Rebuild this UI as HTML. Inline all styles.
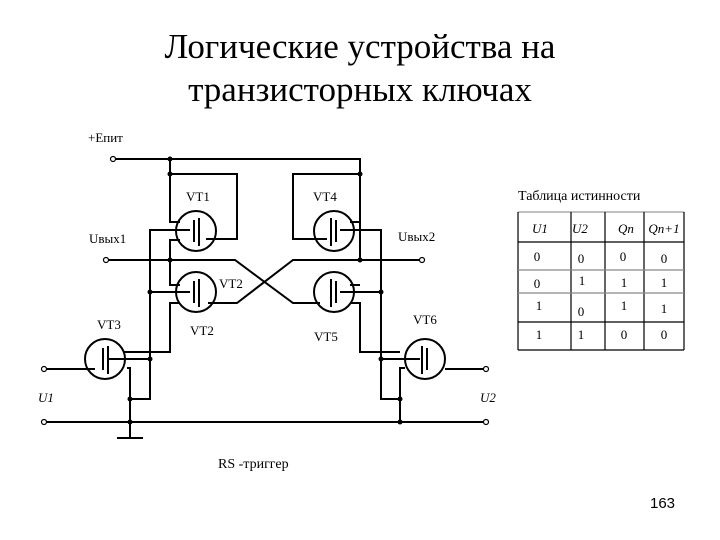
<!DOCTYPE html>
<html><head><meta charset="utf-8"><style>
body{margin:0;background:#fff;}
svg{display:block;}
text{font-family:"Liberation Serif",serif;fill:#000;}
</style></head><body>
<svg width="720" height="540" viewBox="0 0 720 540" xmlns="http://www.w3.org/2000/svg">
<text x="360" y="58" font-size="35" text-anchor="middle">Логические устройства на</text>
<text x="360" y="101" font-size="35" text-anchor="middle">транзисторных ключах</text>
<text x="88" y="142" font-size="13">+Eпит</text>
<g stroke="#000" stroke-width="2" fill="none">
<polyline points="115,159 360,159 360,260"/>
<polyline points="170,159 170,174 237,174 237,239 206,239"/>
<polyline points="360,174 293,174 293,239 327,239"/>
<polyline points="180,222 170,222 170,174"/>
<polyline points="180,240 170,240 170,285 180,285"/>
<polyline points="180,303 170,303 170,352 123,352"/>
<polyline points="350,222 360,222"/>
<polyline points="350,285 360,285"/>
<polyline points="350,303 360,303 360,352 400,352"/>
<polyline points="190,230 150,230 150,399 130,399"/>
<line x1="150" y1="292" x2="190" y2="292"/>
<line x1="108" y1="359" x2="150" y2="359"/>
<polyline points="340,230 381,230 381,399 400,399"/>
<line x1="340" y1="292" x2="381" y2="292"/>
<line x1="381" y1="359" x2="420" y2="359"/>
<polyline points="108,260 235,260 293,303 320,303"/>
<polyline points="208,303 237,303 293,260 420,260"/>
<line x1="46" y1="369" x2="95" y2="369"/>
<line x1="445" y1="369" x2="484" y2="369"/>
<polyline points="127,368 130,368 130,437"/>
<polyline points="400,422 400,368 405,368"/>
<line x1="46" y1="422" x2="484" y2="422"/>
<line x1="117" y1="438" x2="143" y2="438"/>
<circle cx="196" cy="231" r="20"/>
<circle cx="196" cy="292" r="20"/>
<circle cx="334" cy="231" r="20"/>
<circle cx="334" cy="292" r="20"/>
<circle cx="105" cy="359" r="20"/>
<circle cx="425" cy="359" r="20"/>
</g>
<g stroke="#000" stroke-width="2">
<line x1="194" y1="220" x2="194" y2="242"/><line x1="199" y1="218" x2="199" y2="246"/>
<line x1="194" y1="281" x2="194" y2="303"/><line x1="199" y1="279" x2="199" y2="307"/>
<line x1="336" y1="220" x2="336" y2="242"/><line x1="331" y1="218" x2="331" y2="246"/>
<line x1="336" y1="281" x2="336" y2="303"/><line x1="331" y1="279" x2="331" y2="307"/>
<line x1="103" y1="348" x2="103" y2="370"/><line x1="108" y1="346" x2="108" y2="374"/>
<line x1="427" y1="348" x2="427" y2="370"/><line x1="422" y1="346" x2="422" y2="374"/>
</g>
<g fill="#000">
<circle cx="170" cy="159" r="2.5"/><circle cx="170" cy="174" r="2.5"/><circle cx="360" cy="174" r="2.5"/>
<circle cx="170" cy="260" r="2.5"/><circle cx="360" cy="260" r="2.5"/>
<circle cx="150" cy="292" r="2.5"/><circle cx="381" cy="292" r="2.5"/>
<circle cx="150" cy="359" r="2.5"/><circle cx="381" cy="359" r="2.5"/>
<circle cx="130" cy="399" r="2.5"/><circle cx="400" cy="399" r="2.5"/>
<circle cx="130" cy="422" r="2.5"/><circle cx="400" cy="422" r="2.5"/>
</g>
<g fill="#fff" stroke="#000" stroke-width="1.2">
<circle cx="113" cy="159" r="2.5"/><circle cx="106" cy="260" r="2.5"/><circle cx="422" cy="260" r="2.5"/>
<circle cx="44" cy="369" r="2.5"/><circle cx="44" cy="422" r="2.5"/>
<circle cx="486" cy="369" r="2.5"/><circle cx="486" cy="422" r="2.5"/>
</g>
<g font-size="13">
<text x="186" y="201">VT1</text><text x="313" y="201">VT4</text>
<text x="89" y="243">Uвых1</text><text x="398" y="241">Uвых2</text>
<text x="219" y="288">VT2</text><text x="190" y="335">VT2</text>
<text x="97" y="329">VT3</text><text x="314" y="341">VT5</text><text x="413" y="324">VT6</text>
<text x="38" y="402" font-style="italic">U1</text><text x="480" y="402" font-style="italic">U2</text>
<text x="218" y="468" font-size="14">RS -триггер</text>
</g>
<text x="650" y="508" font-size="15" style="font-family:'Liberation Sans',sans-serif">163</text>
<text x="518" y="200" font-size="14">Таблица истинности</text>
<g stroke="#000" stroke-width="1.2" fill="none">
<line x1="518" y1="212" x2="684" y2="212" stroke="#999"/>
<line x1="518" y1="212" x2="518" y2="350"/><line x1="571" y1="212" x2="571" y2="350"/>
<line x1="605" y1="212" x2="605" y2="350"/><line x1="644" y1="212" x2="644" y2="350"/>
<line x1="684" y1="212" x2="684" y2="350"/>
<line x1="518" y1="242" x2="684" y2="242"/>
<line x1="518" y1="270" x2="684" y2="270" stroke="#888"/>
<line x1="518" y1="293" x2="684" y2="293" stroke="#888"/>
<line x1="518" y1="322" x2="684" y2="322"/>
<line x1="518" y1="350" x2="684" y2="350"/>
</g>
<g font-size="13" text-anchor="middle">
<text x="540" y="233" font-style="italic">U1</text><text x="580" y="233" font-style="italic">U2</text>
<text x="626" y="233" font-style="italic">Qn</text><text x="664" y="233" font-style="italic">Qn+1</text>
<text x="537" y="261">0</text><text x="581" y="263">0</text><text x="623" y="261">0</text><text x="664" y="263">0</text>
<text x="537" y="288">0</text><text x="582" y="285">1</text><text x="624" y="287">1</text><text x="664" y="287">1</text>
<text x="539" y="310">1</text><text x="581" y="316">0</text><text x="624" y="310">1</text><text x="664" y="313">1</text>
<text x="539" y="339">1</text><text x="581" y="339">1</text><text x="624" y="339">0</text><text x="664" y="339">0</text>
</g>
</svg>
</body></html>
